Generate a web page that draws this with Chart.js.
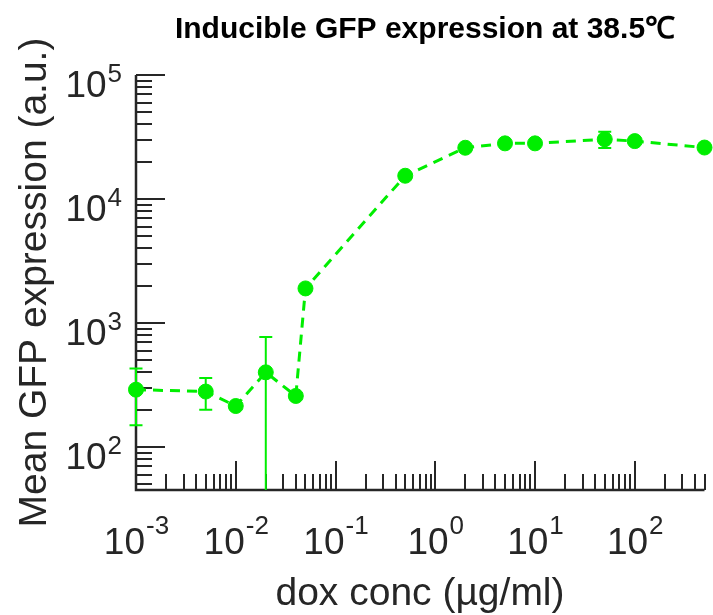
<!DOCTYPE html>
<html lang="en">
<head>
    <meta charset="UTF-8">
    <title>Inducible GFP expression</title>
    <script src="https://cdn.jsdelivr.net/npm/chart.js"></script>
    <style>
        html, body { margin: 0; padding: 0; background: #fff; }
        #wrap { width: 713px; height: 615px; }
    </style>
</head>
<body>
    <div id="wrap"><canvas id="chart" width="713" height="615"></canvas></div>
    <script>
        // dox concentration (ug/ml) and mean GFP (a.u.) with error
        const doxConc = [0.001, 0.005, 0.01, 0.02, 0.04, 0.05, 0.5, 2, 5, 10, 50, 100, 500];
        const gfpMean = [290, 280, 214, 400, 258, 1900, 15400, 25900, 28100, 28100, 30300, 29300, 26000];
        const gfpErr = [140, 80, 12, 370, 15, 90, 600, 1000, 1000, 900, 4500, 1200, 1000];

        const xExponents = [-3, -2, -1, 0, 1, 2];
        const yExponents = [2, 3, 4, 5];
        const xRange = [0.001, 500];
        const yRange = [45, 100000];

        const green = '#00ee00';
        const axisColor = '#262626';

        function minorTicks(min, max) {
            const out = [];
            for (let e = Math.floor(Math.log10(min)); e <= Math.ceil(Math.log10(max)); e++) {
                for (let k = 1; k <= 9; k++) {
                    const v = k * Math.pow(10, e);
                    if (v >= min * 0.999 && v <= max * 1.001) out.push({ v, major: k === 1 });
                }
            }
            return out;
        }

        const matlabAxes = {
            id: 'matlabAxes',
            beforeDatasetsDraw(chart) {
                const ctx = chart.ctx;
                const xs = chart.scales.x, ys = chart.scales.y;
                const area = chart.chartArea;
                ctx.save();

                // axis lines
                ctx.strokeStyle = axisColor;
                ctx.lineWidth = 2.5;
                ctx.beginPath();
                ctx.moveTo(area.left, area.top);
                ctx.lineTo(area.left, area.bottom);
                ctx.lineTo(area.right, area.bottom);
                ctx.stroke();

                // inward ticks
                ctx.lineWidth = 2;
                ctx.beginPath();
                minorTicks(xRange[0], xRange[1]).forEach(t => {
                    const px = Math.round(xs.getPixelForValue(t.v));
                    ctx.moveTo(px, area.bottom);
                    ctx.lineTo(px, area.bottom - (t.major ? 29 : 16));
                });
                minorTicks(yRange[0], yRange[1]).forEach(t => {
                    const py = Math.round(ys.getPixelForValue(t.v));
                    ctx.moveTo(area.left, py);
                    ctx.lineTo(area.left + (t.major ? 29 : 16), py);
                });
                ctx.stroke();

                // tick labels 10^n
                ctx.fillStyle = axisColor;
                const baseFont = '37px "Liberation Sans", Arial, sans-serif';
                const expFont = '26px "Liberation Sans", Arial, sans-serif';
                ctx.textAlign = 'left';
                ctx.textBaseline = 'alphabetic';
                xExponents.forEach(e => {
                    const px = xs.getPixelForValue(Math.pow(10, e));
                    ctx.font = baseFont;
                    const wb = ctx.measureText('10').width;
                    ctx.font = expFont;
                    const we = ctx.measureText(String(e)).width;
                    const x0 = px - (wb + we) / 2;
                    ctx.font = baseFont;
                    ctx.fillText('10', x0, area.bottom + 64);
                    ctx.font = expFont;
                    ctx.fillText(String(e), x0 + wb + 1, area.bottom + 44);
                });
                yExponents.forEach(e => {
                    const py = ys.getPixelForValue(Math.pow(10, e));
                    ctx.font = expFont;
                    const we = ctx.measureText(String(e)).width;
                    ctx.font = baseFont;
                    const wb = ctx.measureText('10').width;
                    const right = area.left - 14;
                    ctx.fillText('10', right - we - wb - 1, py + 22);
                    ctx.font = expFont;
                    ctx.fillText(String(e), right - we, py + 7);
                });

                // axis titles
                ctx.textAlign = 'center';
                ctx.font = '39px "Liberation Sans", Arial, sans-serif';
                ctx.fillText('dox conc (\u00b5g/ml)', 420, 605);
                ctx.save();
                ctx.translate(46, (area.top + area.bottom) / 2);
                ctx.rotate(-Math.PI / 2);
                ctx.font = '39px "Liberation Sans", Arial, sans-serif';
                ctx.fillText('Mean GFP expression (a.u.)', 0, 0);
                ctx.restore();

                // title
                ctx.fillStyle = '#000';
                ctx.font = 'bold 30px "Liberation Sans", Arial, sans-serif';
                ctx.fillText('Inducible GFP expression at 38.5\u2103', 425, 38);

                // error bars
                ctx.beginPath();
                ctx.rect(area.left - 20, area.top - 20, area.right - area.left + 40, area.bottom - area.top + 20);
                ctx.clip();
                ctx.strokeStyle = green;
                ctx.lineWidth = 2;
                ctx.beginPath();
                doxConc.forEach((d, i) => {
                    const px = xs.getPixelForValue(d);
                    const lo = gfpMean[i] - gfpErr[i];
                    const yHi = ys.getPixelForValue(gfpMean[i] + gfpErr[i]);
                    const yLo = lo > 0 ? ys.getPixelForValue(lo) : area.bottom + 30;
                    ctx.moveTo(px, yHi);
                    ctx.lineTo(px, yLo);
                    ctx.moveTo(px - 6.5, yHi);
                    ctx.lineTo(px + 6.5, yHi);
                    ctx.moveTo(px - 6.5, yLo);
                    ctx.lineTo(px + 6.5, yLo);
                });
                ctx.stroke();
                ctx.restore();
            }
        };

        new Chart(document.getElementById('chart'), {
            type: 'line',
            data: {
                datasets: [{
                    data: doxConc.map((d, i) => ({ x: d, y: gfpMean[i] })),
                    borderColor: green,
                    backgroundColor: green,
                    borderWidth: 3,
                    borderDash: [10, 7],
                    pointRadius: 7.5,
                    pointBorderWidth: 1,
                    pointBackgroundColor: green,
                    pointBorderColor: green,
                    tension: 0,
                    clip: false
                }]
            },
            options: {
                responsive: false,
                animation: false,
                devicePixelRatio: 1,
                layout: { padding: { left: 136, right: 6, top: 75, bottom: 125 } },
                plugins: { legend: { display: false }, title: { display: false }, tooltip: { enabled: false } },
                scales: {
                    x: { type: 'logarithmic', min: xRange[0], max: xRange[1], display: false },
                    y: { type: 'logarithmic', min: yRange[0], max: yRange[1], display: false }
                }
            },
            plugins: [matlabAxes]
        });
    </script>
</body>
</html>
